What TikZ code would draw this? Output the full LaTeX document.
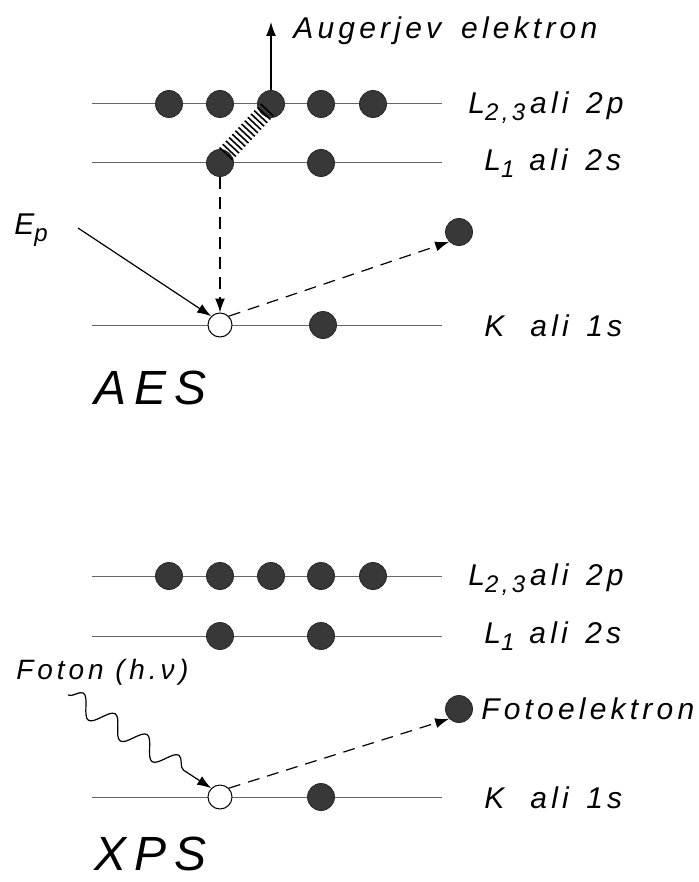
\documentclass[tikz,border=0pt]{standalone}
\usepackage{fontspec}
\setmainfont{Liberation Sans}
\newfontfamily\drawfont[LetterSpace=14]{Liberation Sans}
\usetikzlibrary{arrows.meta, positioning, decorations.pathreplacing, decorations.pathmorphing}

\newcommand{\lsub}[1]{\raisebox{-0.45ex}{\fontsize{12}{12}\selectfont #1}}

\begin{document}
\begin{tikzpicture}[
    x=0.5pt, y=-0.5pt,
    font=\drawfont\itshape\fontsize{15}{18}\selectfont,
    level/.style={draw=black!60, line width=0.5pt},
    electron/.style={
        circle, fill=black!78, draw=black!85,
        minimum size=13.5pt, inner sep=0pt
    },
    hole/.style={
        circle, draw, fill=white, line width=0.5pt,
        minimum size=12pt, inner sep=0pt
    },
    arrow/.style={-{Latex[length=7pt,width=5pt]}, line width=0.6pt},
    dasharrow/.style={arrow, dash pattern=on 6pt off 4pt},
    shell/.style={anchor=west, inner sep=0pt},
    method/.style={anchor=west, inner sep=0pt,
        font=\drawfont\itshape\fontsize{24}{28}\selectfont}
]
\useasboundingbox (0,0) rectangle (698,882);

% ===== AES: LEVELS =====
\foreach \y in {104,163,325}
    \draw[level] (92,\y) -- (442,\y);

% ===== AES: ELECTRONS =====
\foreach \x [count=\i] in {169,220,271,321,373}
    \node[electron] (ap\i) at (\x,104) {};
\node[electron] (as1) at (220,163) {};
\node[electron] (as2) at (321,163) {};
\node[hole] (akh) at (220,325) {};
\node[electron] (ak2) at (323,325) {};
\node[electron] (aout) at (459,232) {};

% ===== AES: LABELS =====
\node[shell] (al23) at (468,108) {L\lsub{2,3}\,ali\, 2p};
\node[shell] (al1) at (484,163) {L\lsub{1}\,\,\,ali\, 2s};
\node[shell] (ak) at (484,326) {K\hspace{13pt}ali\, 1s};
\node[shell] (auger) at (293,31) {Augerjev\hspace{10pt}elektron};
\node[shell] (ep) at (14,230) {E\lsub{p}};
\node[method] (aes) at (94,388) {A\,E\,S};

\coordinate (augtop) at (271,22);
\coordinate (epstart) at (78,228);

% ===== AES: TRANSITIONS =====
\draw[arrow] (ap3.north) -- (augtop);
\draw[line width=0.8pt, decorate,
      decoration={ticks, segment length=2.3pt, amplitude=4.5pt}]
    ([shift={(-4,6)}]ap3.center) -- ([shift={(5,-8)}]as1.center);
\draw[dasharrow] (as1.south) -- (akh.north);
\draw[arrow] (epstart) -- (akh.north west);
\draw[dasharrow] (akh.north east) -- (aout.south west);

% ===== XPS: LEVELS =====
\foreach \y in {576,636,797}
    \draw[level] (92,\y) -- (442,\y);

% ===== XPS: ELECTRONS =====
\foreach \x [count=\i] in {169,220,271,321,373}
    \node[electron] (xp\i) at (\x,576) {};
\node[electron] (xs1) at (220,636) {};
\node[electron] (xs2) at (321,636) {};
\node[hole] (xkh) at (220,797) {};
\node[electron] (xk2) at (321,797) {};
\node[electron] (xout) at (459,709) {};

% ===== XPS: LABELS =====
\node[shell] (xl23) at (468,580) {L\lsub{2,3}\,ali\, 2p};
\node[shell] (xl1) at (484,636) {L\lsub{1}\,\,\,ali\, 2s};
\node[shell] (xk) at (484,798) {K\hspace{13pt}ali\, 1s};
\node[shell, right=4pt of xout] (foto) {Fotoelektron};
\node[shell, font=\drawfont\itshape\fontsize{14}{17}\selectfont] (foton) at (16,672) {Foton (\,h.ν\,)};
\node[method] (xps) at (94,854) {X\,P\,S};

\coordinate (wavestart) at (68,695);

% ===== XPS: TRANSITIONS =====
\draw[arrow, decorate,
      decoration={snake, segment length=19pt, amplitude=5pt, post length=9pt}]
    (wavestart) -- (xkh.north west);
\draw[dasharrow] (xkh.north east) -- (xout.south west);

\end{tikzpicture}
\end{document}
